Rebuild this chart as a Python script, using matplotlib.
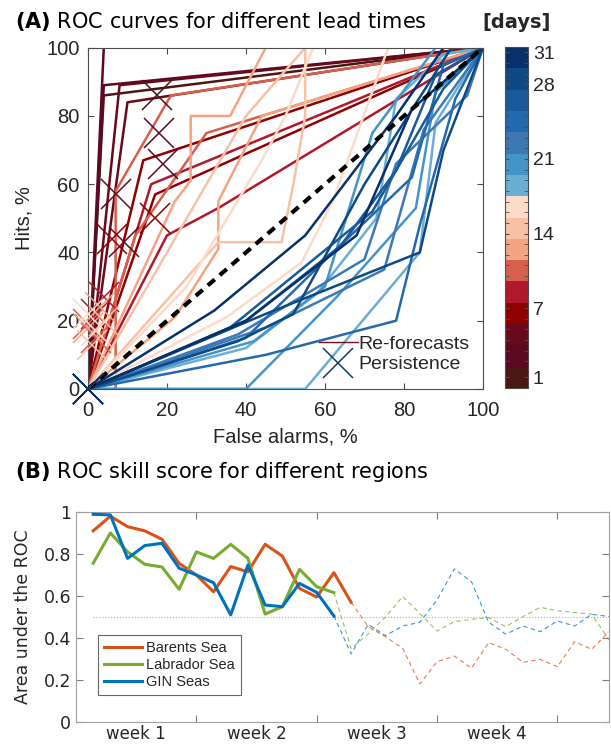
import matplotlib
matplotlib.use("Agg")
import matplotlib.pyplot as plt
import numpy as np
from matplotlib.colors import ListedColormap, BoundaryNorm
from matplotlib.cm import ScalarMappable
from matplotlib.lines import Line2D
from matplotlib.ticker import MultipleLocator

# ---- ROC curves per lead time (false alarm %, hit %) ----
lead_days = list(range(1, 32))
roc_fa = [
    [0, 4, 100], [0, 4, 100], [0, 4, 100], [0, 8, 100], [0, 10, 100],
    [0, 14, 100], [0, 17, 100], [0, 16, 100], [0, 20, 33, 100],
    [0, 7, 7, 21, 100], [0, 12, 30, 100],
    [0, 22, 33, 33, 44, 100], [0, 22, 26, 26, 36, 45, 100],
    [0, 20, 40, 55, 100], [0, 33, 49, 52, 55, 55, 100],
    [0, 35, 54, 62, 76, 100], [0, 25, 44, 50, 57, 100],
    [0, 55, 84, 88, 100], [0, 40, 58, 73, 78, 90, 100],
    [0, 40, 63, 83, 88, 100], [0, 42, 60, 72, 88, 100],
    [0, 38, 70, 78, 96, 100], [0, 45, 75, 85, 100],
    [0, 40, 62, 82, 90, 100], [0, 45, 78, 84, 93, 100],
    [0, 36, 72, 90, 100], [0, 40, 64, 78, 88, 100],
    [0, 45, 84, 90, 100], [0, 38, 52, 70, 92, 100],
    [0, 40, 68, 82, 100], [0, 32, 55, 78, 90, 100],
]
roc_hit = [
    [0, 86, 100], [0, 100, 100], [0, 89, 100], [0, 89, 100], [0, 84, 100],
    [0, 67, 100], [0, 57, 100], [0, 60, 100], [0, 45, 53, 100],
    [0, 0, 58, 86, 100], [0, 45, 75, 100],
    [0, 21, 41, 55, 80, 100], [0, 55, 61, 80, 80, 100, 100],
    [0, 40, 80, 100, 100], [0, 43, 43, 60, 80, 100, 100],
    [0, 21, 37, 55, 100, 100], [0, 30, 67, 80, 100, 100],
    [0, 0, 40, 78, 100], [0, 12, 28, 50, 85, 98, 100],
    [0, 0, 27, 53, 87, 100], [0, 14, 30, 75, 100, 100],
    [0, 16, 38, 66, 86, 100], [0, 18, 35, 76, 100],
    [0, 15, 40, 62, 95, 100], [0, 10, 20, 48, 85, 100],
    [0, 18, 52, 88, 100], [0, 20, 42, 64, 92, 100],
    [0, 22, 40, 70, 100], [0, 14, 22, 60, 100, 100],
    [0, 20, 45, 82, 100], [0, 23, 45, 80, 100, 100],
]

# persistence forecast, one point per lead time
pers_fa = [17.5, 18, 19, 7, 9, 17, 6, 4, 2, 0, 2, 3, 0, 1, 4, 2, 0,
           0, 0, 0, 0, 0, 0, 0, 0, 0, 0, 0, 0, 0, 0]
pers_hit = [86, 75, 66, 57, 43, 50, 44, 27, 22, 19, 15, 24, 18, 13, 20, 17, 22,
            0, 0, 0, 0, 0, 0, 0, 0, 0, 0, 0, 0, 0, 0]

# ---- area under the ROC per region ----
days = np.arange(1, 32)
barents = [0.91, 0.98, 0.93, 0.91, 0.87, 0.755, 0.70, 0.62, 0.74, 0.715,
           0.846, 0.79, 0.636, 0.595, 0.711, 0.57, 0.454, 0.406, 0.351, 0.181,
           0.287, 0.314, 0.256, 0.378, 0.346, 0.284, 0.298, 0.263, 0.382, 0.346, 0.43]
labrador = [0.756, 0.90, 0.81, 0.751, 0.738, 0.632, 0.81, 0.779, 0.846, 0.779,
            0.514, 0.549, 0.727, 0.644, 0.616, 0.35, 0.42, 0.50, 0.597, 0.517,
            0.433, 0.478, 0.489, 0.497, 0.454, 0.502, 0.546, 0.53, 0.521, 0.514, 0.39]
gin = [0.989, 0.986, 0.779, 0.84, 0.851, 0.732, 0.70, 0.663, 0.51, 0.748,
       0.557, 0.549, 0.66, 0.617, 0.505, 0.324, 0.465, 0.411, 0.457, 0.475,
       0.581, 0.729, 0.668, 0.475, 0.418, 0.457, 0.43, 0.481, 0.457, 0.513, 0.502]
last_solid = {"Barents Sea": 16, "Labrador Sea": 15, "GIN Seas": 15}
week_labels = ["week 1", "week 2", "week 3", "week 4"]

# two-day colour blocks, reds for short leads, blues for long leads
block_colors = ["#4a1712", "#5c0a24", "#680a1c", "#910000", "#b0182b",
                "#d6604d", "#f3a482", "#f8c1a6", "#fcdcc9",
                "#6aaed6", "#4594c7", "#3b78b4", "#2369ae", "#185a9b",
                "#0d4a85", "#08306b"]
bounds = [0.5, 1.5] + [3.5 + 2 * i for i in range(15)]
cmap = ListedColormap(block_colors)
norm = BoundaryNorm(bounds, cmap.N)

TXT = "#262626"
plt.rcParams["font.family"] = ["Liberation Sans", "DejaVu Sans"]
plt.rcParams["text.color"] = TXT

fig = plt.figure(figsize=(6.11, 7.46), dpi=100)

# ---------------- panel A ----------------
ax = fig.add_axes([0.144, 0.4786, 0.6465, 0.4575])
for d, fa, hit in zip(lead_days, roc_fa, roc_hit):
    ax.plot(fa, hit, color=cmap(norm(d)), lw=1.8, zorder=2)
ax.plot([0, 100], [0, 100], "k--", lw=3, dashes=(2.2, 1.6), zorder=3)
for d, fa, hit in zip(lead_days, pers_fa, pers_hit):
    ax.plot(fa, hit, marker="x", ms=21, mew=1.1, color=cmap(norm(d)),
            ls="none", clip_on=False, zorder=4)

ax.set_xlim(0, 100)
ax.set_ylim(0, 100)
ax.set_xticks(range(0, 101, 20))
ax.set_yticks(range(0, 101, 20))
ax.tick_params(direction="in", top=True, right=True, labelsize=14.5,
               colors="#4d4d4d", labelcolor=TXT, length=4)
ax.tick_params(axis="x", pad=9)
ax.tick_params(axis="y", pad=6)
for s in ax.spines.values():
    s.set_color("#4d4d4d")
ax.set_xlabel("False alarms, %", fontsize=14.5, color=TXT, labelpad=5)
ax.set_ylabel("Hits, %", fontsize=14.5, color=TXT, labelpad=9)

h1 = Line2D([], [], color="#7a0c1c", lw=1)
h2 = Line2D([], [], color="#0d3b72", marker="x", ms=21, mew=1.1, ls="none")
ax.legend([h1, h2], ["Re-forecasts", "Persistence"], loc="lower left",
          bbox_to_anchor=(0.545, 0.0), frameon=False, fontsize=14,
          handlelength=2.0, handletextpad=0.05, labelspacing=0.15,
          borderpad=0.3)

fig.text(0.025, 0.962, r"$\bf{(A)}$ ROC curves for different lead times",
         fontsize=15, family="DejaVu Sans", color="black")

cax = fig.add_axes([0.8265, 0.4799, 0.0376, 0.457])
cb = fig.colorbar(ScalarMappable(norm=norm, cmap=cmap), cax=cax,
                  ticks=[1, 7, 14, 21, 28, 31])
cb.outline.set_edgecolor("#4d4d4d")
cax.yaxis.set_minor_locator(MultipleLocator(1))
cax.tick_params(which="both", direction="in", left=True, right=True,
                labelsize=14, colors="#4d4d4d", labelcolor=TXT, length=3)
cax.set_ylim(0.5, 31.5)
fig.text(0.845, 0.963, "[days]", fontsize=14, fontweight="bold",
         family="DejaVu Sans", ha="center", color=TXT)

# ---------------- panel B ----------------
bx = fig.add_axes([0.1244, 0.0322, 0.8723, 0.2815])
bx.plot([1, 31], [0.5, 0.5], ls=":", color="#b0b0b0", lw=0.8)
series = [("Barents Sea", barents, "#d95319"),
          ("Labrador Sea", labrador, "#77ac30"),
          ("GIN Seas", gin, "#0072bd")]
for name, vals, col in series:
    k = last_solid[name]
    bx.plot(days[:k], vals[:k], color=col, lw=2.2, label=name, zorder=3)
    bx.plot(days[k - 1:], vals[k - 1:], color=col, lw=0.8, alpha=0.75,
            dashes=(4, 3), zorder=2)

bx.set_xlim(0, 31)
bx.set_ylim(0, 1)
bx.set_yticks(np.arange(0, 1.01, 0.2))
bx.set_yticklabels(["0", "0.2", "0.4", "0.6", "0.8", "1"])
bx.set_xticks([7, 14, 21, 28])
bx.set_xticklabels([])
bx.set_xticks([3.5, 10.5, 17.5, 24.5], minor=True)
bx.set_xticklabels(week_labels, minor=True, family="DejaVu Sans")
bx.tick_params(which="major", direction="in", top=True, right=True,
               labelsize=12.5, colors="#7f7f7f", labelcolor=TXT, length=5)
bx.tick_params(which="minor", length=0, labelsize=12, labelcolor=TXT, pad=2)
for lab in bx.get_yticklabels():
    lab.set_family("DejaVu Sans")
for s in bx.spines.values():
    s.set_color("#a0a0a0")
bx.set_ylabel("Area under the ROC", fontsize=12.5, family="DejaVu Sans",
              color=TXT, labelpad=8)
leg = bx.legend(loc="lower left", bbox_to_anchor=(0.028, 0.095), fontsize=10.5,
                handlelength=2.6, handletextpad=0.3, labelspacing=0.2,
                borderpad=0.4, fancybox=False, edgecolor="#404040")
leg.get_frame().set_linewidth(0.8)

fig.text(0.025, 0.359, r"$\bf{(B)}$ ROC skill score for different regions",
         fontsize=15, family="DejaVu Sans", color="black")

fig.savefig("out.png", dpi=100)
